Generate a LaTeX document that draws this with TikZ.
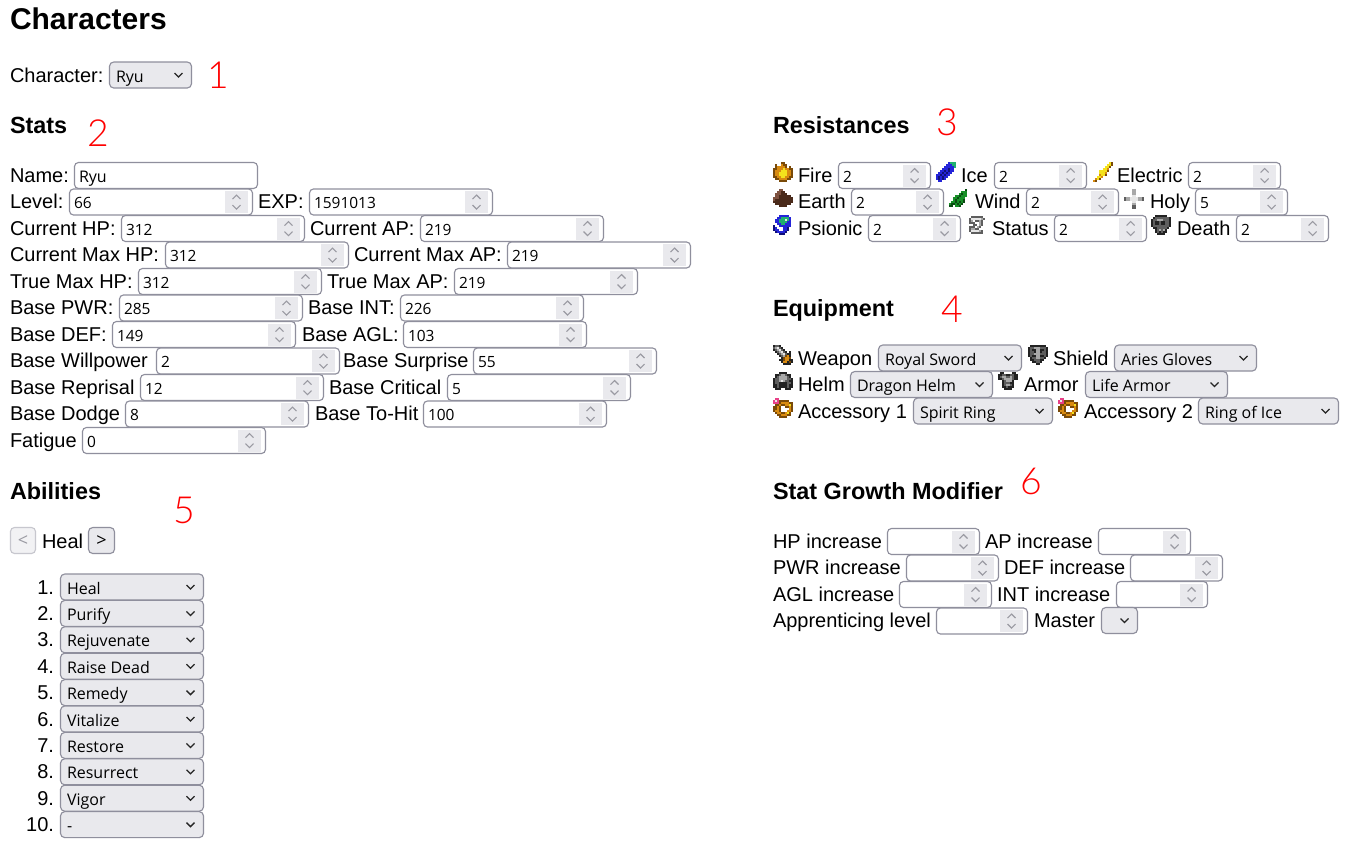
\documentclass[tikz,border=0pt]{standalone}
\usepackage{fontspec}
\setmainfont{Liberation Sans}
\newfontfamily\uifont{Open Sans}
\newfontfamily\redfont{Lato}[UprightFont=* Light]
\definecolor{bordc}{HTML}{8F8F9D}
\definecolor{selc}{HTML}{E9E9ED}
\definecolor{chevc}{HTML}{9A9AA2}
\definecolor{pxk}{HTML}{222222}
\definecolor{pxg}{HTML}{5E5E5E}
\definecolor{pxl}{HTML}{A8A8A8}
\definecolor{pxw}{HTML}{E6E6E6}
\definecolor{pxo}{HTML}{D88A10}
\definecolor{pxy}{HTML}{F4E21C}
\definecolor{pxd}{HTML}{7A4A08}
\definecolor{pxb}{HTML}{4A2A1A}
\definecolor{pxn}{HTML}{7E5240}
\definecolor{pxu}{HTML}{2424D8}
\definecolor{pxU}{HTML}{10107A}
\definecolor{pxc}{HTML}{20B070}
\definecolor{pxe}{HTML}{189028}
\definecolor{pxE}{HTML}{0A4A12}
\definecolor{pxr}{HTML}{E84088}
\tikzset{
  x=0.75pt,y=-0.75pt,
  lab/.style={anchor=base west,inner sep=0pt,outer sep=0pt,font=\fontsize{15}{18}\selectfont,text=black},
  labr/.style={anchor=base east,inner sep=0pt,outer sep=0pt,font=\fontsize{15}{18}\selectfont,text=black},
  hone/.style={lab,font=\fontsize{22.5}{26}\selectfont\bfseries},
  htwo/.style={lab,font=\fontsize{17.55}{20}\selectfont\bfseries},
  val/.style={anchor=base west,inner sep=0pt,outer sep=0pt,font=\uifont\fontsize{11.6}{14}\selectfont,text=black},
  selval/.style={val,font=\uifont\fontsize{12}{14}\selectfont},
  btnlab/.style={anchor=center,inner sep=0pt,outer sep=0pt,font=\uifont\fontsize{13.5}{15}\selectfont},
  rednum/.style={anchor=center,inner sep=0pt,outer sep=0pt,font=\redfont\fontsize{28}{30}\selectfont,text=red},
  inbox/.style={draw=bordc,fill=white,line width=0.85pt,rounded corners=3pt},
  selbox/.style={draw=bordc,fill=selc,line width=0.85pt,rounded corners=3.2pt},
  offbox/.style={draw=bordc!50,fill=selc!60,line width=0.85pt,rounded corners=3pt},
  spinbg/.style={fill=selc,draw=none},
  spinch/.style={draw=chevc,line width=0.8pt},
  selch/.style={draw=black!85,line width=0.95pt},
}
\newcount\nodenum
\newcount\pxcol
\newcommand{\anode}[3]{\global\advance\nodenum by 1\relax\node[#1] (n\the\nodenum) at #2 {#3};}
\newcommand{\lab}[3]{\anode{lab}{(#1,#2)}{#3}}
\newcommand{\txtbox}[4]{\draw[inbox] ({#1+0.5},#3-19.5) rectangle ({#2-0.5},#3+6.5);
  \anode{selval}{({#1+5},#3)}{#4}}
\newcommand{\inp}[4]{\draw[inbox] ({#1+0.5},#3-19.5) rectangle ({#2-0.5},#3+6.5);
  \fill[spinbg] ({#2-28},#3-17.5) rectangle ({#2-5},#3+4.5);
  \draw[spinch] ({#2-20.5},#3-9.5) -- ({#2-16.5},#3-13.5) -- ({#2-12.5},#3-9.5);
  \draw[spinch] ({#2-20.5},#3-3.5) -- ({#2-16.5},#3+0.5) -- ({#2-12.5},#3-3.5);
  \anode{val}{({#1+5},#3)}{#4}}
\newcommand{\sel}[4]{\draw[selbox] ({#1+0.5},#3-20) rectangle ({#2-0.5},#3+6);
  \draw[selch] ({#2-17.5},#3-9) -- ({#2-13.5},#3-5) -- ({#2-9.5},#3-9);
  \anode{selval}{({#1+7},#3)}{#4}}
\def\pxloop#1{\ifx#1\relax\else
  \ifx#1-\else\fill[fill=px#1] ({\pxX+2*\the\pxcol},{\pxY+2*\pxR}) rectangle ++(2.1,2.1);\fi
  \global\advance\pxcol by 1\relax
  \expandafter\pxloop\fi}
\newcommand{\pixmap}[3]{\def\pxX{#1}\def\pxY{#2}%
  \foreach \pxrow [count=\pxR from 0] in {#3}{\global\pxcol=0\relax\expandafter\pxloop\pxrow\relax}}
\newcommand{\icFire}[2]{\pixmap{#1}{#2}{----dd----,-d--odd---,-dooood-d-,ddoooyoodd,doooyyyood,dooyyyyood,dooyyyyood,ddooyyoodd,-ddoooodd-,---dddd---}}
\newcommand{\icIce}[2]{\pixmap{#1}{#2}{------uccc,-----uuucc,----uuuuuc,---uuuUuu-,--uuUuUuu-,-uuUuUuu--,uuUuUuu---,uUuUuu----,uUuUu-----,-uu-------}}
\newcommand{\icElec}[2]{\pixmap{#1}{#2}{--------yd,-------yyd,------yyd-,-----yyo--,---yyyyd--,---yyyo---,---oyyd---,--yyo-----,-oyd------,od--------}}
\newcommand{\icEarth}[2]{\pixmap{#1}{#2}{---nn-----,--nnbb----,-nnnbbb---,-nnbbbbbb-,nnnbbbbbbb,nbbbbbbbbb,bbbbbbbbbb,-bbbbbbbb-,---bbbb---,----------}}
\newcommand{\icWind}[2]{\pixmap{#1}{#2}{--------E-,------eee-,-----eEee-,---eeEeee-,--eeEeee--,--eEeeeE--,-eeEeEeE--,eEEeEeE---,EE-eeE----,----------}}
\newcommand{\icHoly}[2]{\pixmap{#1}{#2}{----ll----,----ll----,----ll----,----ww----,gllwwwwllg,gllwwwwllg,----ww----,----ll----,----gg----,----gg----}}
\newcommand{\icPsi}[2]{\pixmap{#1}{#2}{---uuuuu--,--uuccccu-,-uucccwcu-,-uuccccuu-,--uuccuuu-,U--uuuuuu-,Uu---uuU--,Uuu--uuU--,-UuuuuU---,---UUU----}}
\newcommand{\icStat}[2]{\pixmap{#1}{#2}{--gggggg--,-gwwwwwlg-,-gl-gglg--,-ggg--lg--,---gg-lg--,-ggg-lg---,-gllgg----,-gwwwwlg--,--gggggg--,----------}}
\newcommand{\icDeath}[2]{\pixmap{#1}{#2}{--kkkkkk--,-kgggggggk,kgglllgggk,kgkkgkkggk,kgkkgkkggk,kggggggggk,-kkgggggk-,--kglglk--,--kgkgkk--,---kkkk---}}
\newcommand{\icWeap}[2]{\pixmap{#1}{#2}{kggk------,glwgk-----,kglwgk----,-kglwgk-k-,--kglwgkk-,---kgldok-,----kdood-,---kkdookk,----kookdk,-----kkkk-}}
\newcommand{\icShld}[2]{\pixmap{#1}{#2}{-kkkkkkkk-,kgglllgggk,kgkkllkkgk,kggkllkggk,kgglllgggk,kgkkllkkgk,-kggllggk-,-kkgggkk--,--kkggk---,----kk----}}
\newcommand{\icHelm}[2]{\pixmap{#1}{#2}{---kkkk---,-kkgllgkk-,-kgllllgk-,kggllllggk,kgglwlggkk,kggkkkkggk,kkgkkkkgkk,kkgkkkkgkk,-kkk--kkk-,----------}}
\newcommand{\icArm}[2]{\pixmap{#1}{#2}{-kk----kk-,kkggkkggkk,kgllgglgkk,kkgllllgkk,--kglllk--,--kgggkk--,--kgllgk--,--kkgkkk--,---kkkk---,----------}}
\newcommand{\icRing}[2]{\pixmap{#1}{#2}{-rr-------,rwrddddd--,rrrdoooodd,-ddoddooyd,ddod--ddod,ddod----od,dood---ood,-dooddoyd-,--ddooodd-,---dddd---}}
\begin{document}
\begin{tikzpicture}
\useasboundingbox (0,0) rectangle (1353,851);
\fill[white] (0,0) rectangle (1353,851);
% header
\anode{hone}{(10,29.5)}{Characters}
\lab{10}{82}{Character:}
\sel{109}{192}{82}{Ryu}
\anode{rednum}{(218,75)}{1}
% stats
\anode{htwo}{(10,133)}{Stats}
\anode{rednum}{(98.5,133)}{2}
\lab{10}{182}{Name:}\txtbox{74}{258}{182}{Ryu}
\lab{10}{208.5}{Level:}\inp{69}{253}{208.5}{66}
\lab{258}{208.5}{EXP:}\inp{309}{493}{208.5}{1591013}
\lab{10}{235}{Current HP:}\inp{121}{305}{235}{312}
\lab{310}{235}{Current AP:}\inp{420}{604}{235}{219}
\lab{10}{261.5}{Current Max HP:}\inp{165}{349}{261.5}{312}
\lab{354}{261.5}{Current Max AP:}\inp{507}{691}{261.5}{219}
\lab{10}{288}{True Max HP:}\inp{138}{322}{288}{312}
\lab{327}{288}{True Max AP:}\inp{454}{638}{288}{219}
\lab{10}{314.5}{Base PWR:}\inp{119}{303}{314.5}{285}
\lab{308}{314.5}{Base INT:}\inp{400}{584}{314.5}{226}
\lab{10}{341}{Base DEF:}\inp{112}{296}{341}{149}
\lab{302}{341}{Base AGL:}\inp{403}{587}{341}{103}
\lab{10}{367.5}{Base Willpower}\inp{156}{340}{367.5}{2}
\lab{343}{367.5}{Base Surprise}\inp{473}{657}{367.5}{55}
\lab{10}{394}{Base Reprisal}\inp{140}{324}{394}{12}
\lab{329}{394}{Base Critical}\inp{447}{631}{394}{5}
\lab{10}{420.5}{Base Dodge}\inp{125}{309}{420.5}{8}
\lab{315}{420.5}{Base To-Hit}\inp{423}{607}{420.5}{100}
\lab{10}{447}{Fatigue}\inp{82}{266}{447}{0}
% resistances
\anode{htwo}{(773,133)}{Resistances}
\anode{rednum}{(947.5,122)}{3}
\icFire{773}{162}\lab{798}{182}{Fire}\inp{838}{931}{182}{2}
\icIce{936}{162}\lab{961}{182}{Ice}\inp{994}{1087}{182}{2}
\icElec{1093}{162}\lab{1117}{182}{Electric}\inp{1188}{1281}{182}{2}
\icEarth{773}{189}\lab{798}{208.5}{Earth}\inp{851}{944}{208.5}{2}
\icWind{949}{189}\lab{975}{208.5}{Wind}\inp{1026}{1119}{208.5}{2}
\icHoly{1124}{189}\lab{1150}{208.5}{Holy}\inp{1195}{1288}{208.5}{5}
\icPsi{773}{215}\lab{798}{235}{Psionic}\inp{868}{961}{235}{2}
\icStat{967}{216}\lab{992}{235}{Status}\inp{1054}{1147}{235}{2}
\icDeath{1151}{215}\lab{1177}{235}{Death}\inp{1236}{1329}{235}{2}
% equipment
\anode{htwo}{(773,316)}{Equipment}
\anode{rednum}{(952,309)}{4}
\icWeap{773}{345}\lab{798}{365}{Weapon}\sel{878}{1022}{365}{Royal Sword}
\icShld{1028}{345}\lab{1053}{365}{Shield}\sel{1114}{1257}{365}{Aries Gloves}
\icHelm{773}{372}\lab{798}{391.5}{Helm}\sel{850}{993}{391.5}{Dragon Helm}
\icArm{998}{372}\lab{1024}{391.5}{Armor}\sel{1085}{1228}{391.5}{Life Armor}
\icRing{773}{398}\lab{798}{418}{Accessory 1}\sel{913}{1053}{418}{Spirit Ring}
\icRing{1058}{398}\lab{1084}{418}{Accessory 2}\sel{1198}{1339}{418}{Ring of Ice}
% abilities
\anode{htwo}{(10,499)}{Abilities}
\anode{rednum}{(184.5,510)}{5}
\draw[offbox] (10.5,527.5) rectangle (35.5,553.5);
\anode{btnlab,text=chevc}{(23,541)}{<}
\lab{42}{548}{Heal}
\draw[selbox] (88.5,527.5) rectangle (114.5,553.5);
\anode{btnlab}{(101.5,541)}{>}
\foreach \ynum/\ytxt [count=\yi from 0] in {1./Heal,2./Purify,3./Rejuvenate,4./Raise Dead,5./Remedy,6./Vitalize,7./Restore,8./Resurrect,9./Vigor,10./-}{
  \pgfmathsetmacro{\yb}{594+26.4*\yi}
  \anode{labr}{(54,\yb)}{\ynum}
  \sel{60}{204}{\yb}{\ytxt}
}
% growth
\anode{htwo}{(773,499)}{Stat Growth Modifier}
\anode{rednum}{(1031,481)}{6}
\lab{773}{548}{HP increase}\inp{887}{980}{548}{}
\lab{985}{548}{AP increase}\inp{1098}{1191}{548}{}
\lab{773}{574.5}{PWR increase}\inp{906}{999}{574.5}{}
\lab{1004}{574.5}{DEF increase}\inp{1130}{1223}{574.5}{}
\lab{773}{601}{AGL increase}\inp{899}{992}{601}{}
\lab{997}{601}{INT increase}\inp{1116}{1208}{601}{}
\lab{773}{627.5}{Apprenticing level}\inp{936}{1028}{627.5}{}
\lab{1034}{627.5}{Master}\sel{1101}{1138}{627.5}{}
\end{tikzpicture}
\end{document}
